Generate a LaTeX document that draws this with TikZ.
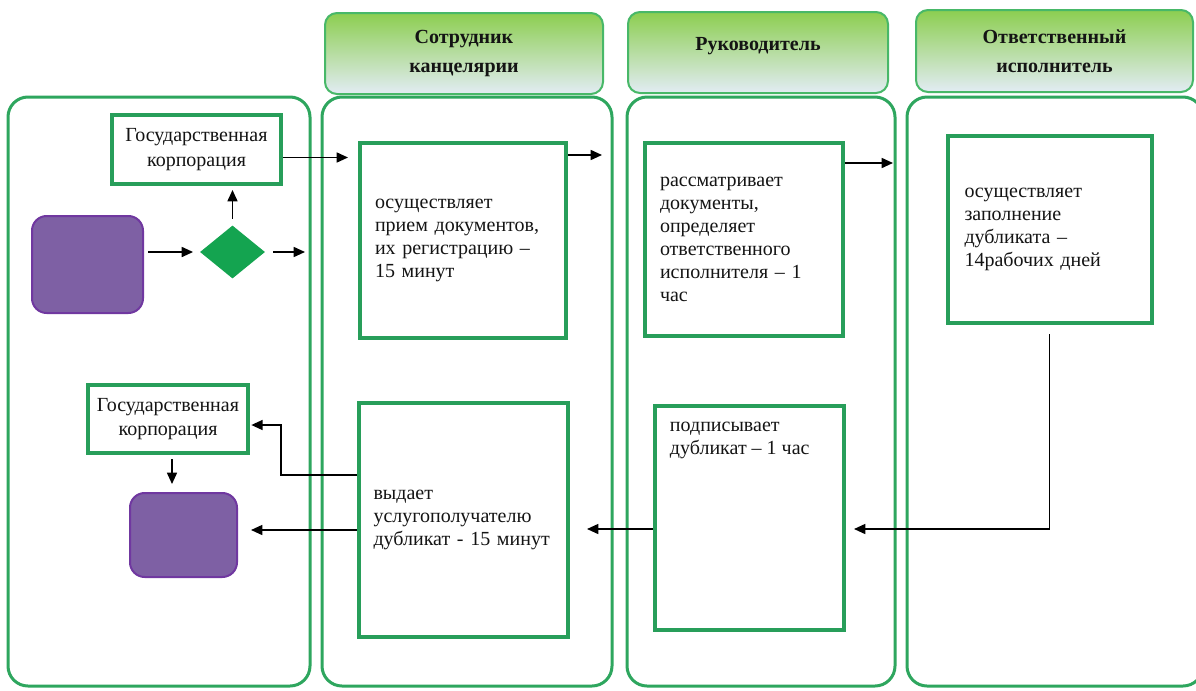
\documentclass[tikz,border=0pt]{standalone}
\usepackage{fontspec}
\setmainfont{Liberation Serif}
\usetikzlibrary{arrows.meta,shapes.geometric,calc}
\definecolor{lanegreen}{RGB}{46,166,94}
\definecolor{boxgreen}{RGB}{40,158,90}
\definecolor{hdrgreen}{RGB}{72,184,104}
\definecolor{hdrtop}{RGB}{140,206,80}
\definecolor{hdrbot}{RGB}{226,236,244}
\definecolor{termfill}{RGB}{126,96,164}
\definecolor{termdraw}{RGB}{112,56,160}
\definecolor{decfill}{RGB}{20,164,80}
\definecolor{ink}{RGB}{20,20,20}
\begin{document}
\begin{tikzpicture}[x=0.75pt,y=-0.75pt,
  sz/.style 2 args={minimum width=#1*0.75pt,minimum height=#2*0.75pt},
  lane/.style={draw=lanegreen,line width=2.25pt,rounded corners=15pt,inner sep=0pt},
  hdr/.style={draw=hdrgreen,line width=1.5pt,rounded corners=9pt,top color=hdrtop,bottom color=hdrbot,
     font=\fontsize{15}{21.75}\selectfont\bfseries,align=center,inner sep=0pt,text=ink},
  box/.style={draw=boxgreen,line width=3pt,fill=white,inner ysep=0pt,inner xsep=11.25pt,
     font=\fontsize{15}{17.25}\selectfont,align=left,text=ink},
  tw/.style={text width=#1*0.75pt},
  gov/.style={draw=boxgreen,line width=3pt,fill=white,inner sep=0pt,
     font=\fontsize{15}{18.5}\selectfont,align=center,text=ink},
  term/.style={fill=termfill,draw=termdraw,line width=1.5pt,rounded corners=11pt,inner sep=0pt},
  dec/.style={diamond,fill=decfill,inner sep=0pt},
  txt/.style={font=\fontsize{15}{17.25}\selectfont,align=left,text=ink,inner sep=0pt},
  arr/.style={draw=black,line width=1.2pt,-{Triangle[length=8.5pt,width=7.5pt]}}
]
\useasboundingbox (0,0) rectangle (1196,690);
\clip (0,0) rectangle (1196,690);
\fill[white] (0,0) rectangle (1196,690);

% lanes
\node[lane,sz={302}{589}] (L0) at (159,391.5) {};
\node[lane,sz={290}{589}] (L1) at (467,391.5) {};
\node[lane,sz={268}{589}] (L2) at (761,391.5) {};
\node[lane,sz={296}{589}] (L3) at (1055,391.5) {};

% headers
\node[hdr,sz={278}{81}] (H1) at (464,53.5) {Сотрудник\\канцелярии};
\node[hdr,sz={260}{81}] (H2) at (758,52.5) {\raisebox{12.8pt}{Руководитель}};
\node[hdr,sz={277}{82}] (H3) at (1054.5,51) {Ответственный\\исполнитель};

% left lane
\node[gov,sz={169}{69}] (G1) at (196.5,149.5) {Государственная\\корпорация};
\node[term,sz={111}{97}] (P1) at (87.5,264.5) {};
\node[dec,sz={65}{53}] (D) at (232.5,252) {};
\node[gov,sz={160}{68}] (G2) at (168,419) {Государственная\\корпорация};
\node[term,sz={107}{84}] (P2) at (183.5,535) {};

% process boxes
\node[box,sz={206}{195},tw={176}] (A) at (463,240.5)
  {осуществляет\\прием документов,\\их регистрацию –\\15 минут};
\node[box,sz={198}{193},tw={168}] (B) at (744,239.5)
  {рассматривает\\документы,\\определяет\\ответственного\\исполнителя – 1\\час};
\node[box,sz={203}{187},tw={170},inner xsep=12.75pt] (E) at (1049.5,229.5)
  {осуществляет\\заполнение\\дубликата –\\14рабочих дней};
\node[box,sz={209}{234},tw={180},inner xsep=10pt] (C) at (463.5,520)
  {выдает\\услугополучателю\\дубликат - 15 минут};
\node[box,sz={189}{224}] (S) at (749.5,518) {};
\node[txt,anchor=north west] (St) at ([xshift=12.5pt,yshift=-13pt]S.north west)
  {подписывает\\дубликат – 1 час};

% free ends
\coordinate (dout) at (305,252);
\coordinate (ab) at (602,155);
\coordinate (be) at (893,163);

% connectors
\draw[arr,shorten <=3pt,shorten >=5pt] (P1.east |- D.west) -- (D.west);
\draw[arr,shorten <=6pt] (D.east) -- (dout);
\draw[arr,shorten <=5pt,shorten >=3pt] (D.north) -- (D.north |- G1.south);
\draw[arr,shorten >=7.5pt] ([yshift=-6pt]G1.east) -- ([yshift=-6pt]G1.east -| A.west);
\draw[arr] (A.east |- ab) -- (ab);
\draw[arr] (B.east |- be) -- (be);
\draw[arr,shorten <=7pt,shorten >=6pt] (E.south) |- ([yshift=-8.25pt]S.east);
\draw[arr,shorten >=12.75pt] ([yshift=-8.25pt]S.west) -- ([yshift=-8.25pt]S.west -| C.east);
\draw[arr,shorten >=1pt] ([yshift=33.75pt]C.west) -- ++(-76,0) |- ([yshift=-4.5pt]G2.east);
\draw[arr,shorten >=9.75pt] ([yshift=-7.5pt]C.west) -- ([yshift=-7.5pt]C.west -| P2.east);
\draw[arr,shorten <=3pt,shorten >=6pt] ([xshift=3pt]G2.south) -- ([xshift=3pt]G2.south |- P2.north);
\end{tikzpicture}
\end{document}
